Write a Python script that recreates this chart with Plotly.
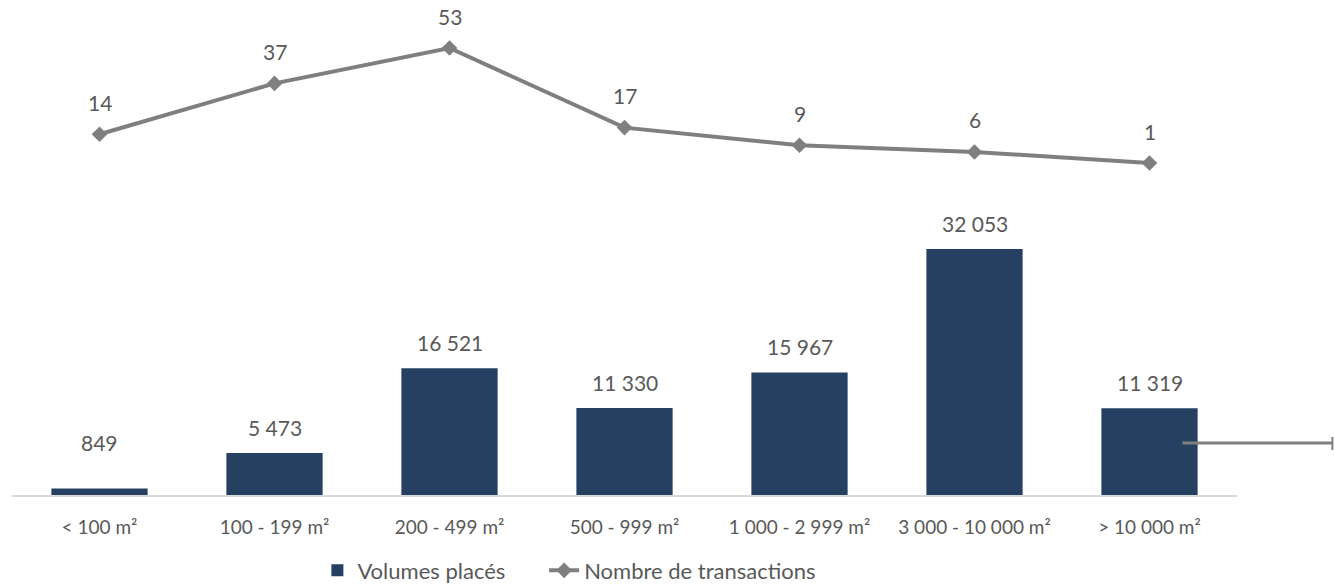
import plotly.graph_objects as go

categories = ["< 100 m²", "100 - 199 m²", "200 - 499 m²", "500 - 999 m²",
              "1 000 - 2 999 m²", "3 000 - 10 000 m²", "> 10 000 m²"]
volumes = [849, 5473, 16521, 11330, 15967, 32053, 11319]
transactions = [14, 37, 53, 17, 9, 6, 1]

def fr(n):
    return f"{n:,}".replace(",", " ")

TXT = "#595959"
FONT = "Lato, 'Open Sans', sans-serif"
BAR = "#264061"
LINE = "#7f7f7f"
NB = "\u00a0"

fig = go.Figure()
fig.add_trace(go.Bar(x=categories, y=volumes, name="Volumes placés" + NB * 6,
                     marker=dict(color=BAR, line=dict(width=0)), width=0.55,
                     yaxis="y"))
fig.add_trace(go.Scatter(x=categories, y=transactions, name="Nombre de transactions",
                         mode="lines+markers", yaxis="y2",
                         line=dict(color=LINE, width=4),
                         marker=dict(symbol="diamond", size=12, color=LINE)))

bar_shift = [46, 26, 26, 26, 26, 26, 26]
for c, v, s in zip(categories, volumes, bar_shift):
    fig.add_annotation(x=c, y=v, yref="y", text=fr(v), showarrow=False,
                       yshift=s, font=dict(size=21, color=TXT, family=FONT))
for c, v in zip(categories, transactions):
    fig.add_annotation(x=c, y=v, yref="y2", text=fr(v), showarrow=False,
                       yshift=32, font=dict(size=21, color=TXT, family=FONT))

# stray connector line at right
fig.add_shape(type="line", xref="paper", yref="paper", x0=0.9555, x1=1.0779,
              y0=0.1095, y1=0.1095, line=dict(color=LINE, width=3))
fig.add_shape(type="line", xref="paper", yref="paper", x0=1.0779, x1=1.0779,
              y0=0.0947, y1=0.1221, line=dict(color=LINE, width=2))

fig.update_layout(
    width=1334, height=587,
    margin=dict(l=12, r=97, t=20, b=92, autoexpand=False),
    paper_bgcolor="white", plot_bgcolor="white",
    font=dict(family=FONT, color=TXT, size=16),
    showlegend=True,
    legend=dict(orientation="h", x=0.455, xanchor="center",
                yref="container", y=0.028, yanchor="middle",
                font=dict(size=22, color=TXT, family=FONT),
                traceorder="normal"),
    xaxis=dict(showgrid=False, showline=True, linecolor="#d9d9d9", linewidth=2,
               ticks="outside", ticklen=14, tickcolor="rgba(0,0,0,0)",
               automargin=False,
               tickfont=dict(size=19, color=TXT, family=FONT)),
    yaxis=dict(range=[0, 61893], visible=False, showgrid=False, automargin=False),
    yaxis2=dict(range=[-149.1, 65.66], overlaying="y", visible=False, showgrid=False,
                automargin=False),
)

fig.write_html("out.html")
